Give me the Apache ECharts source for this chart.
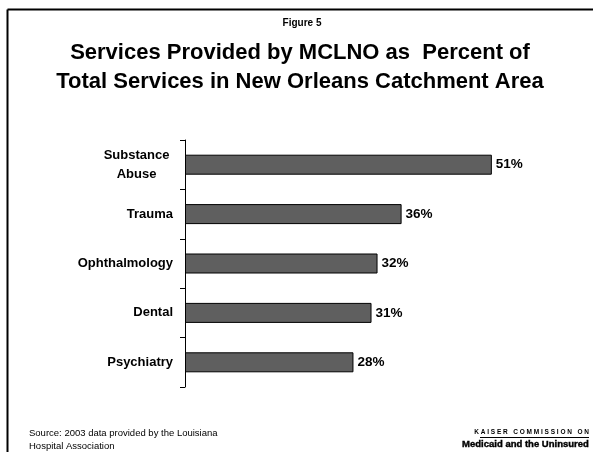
<!DOCTYPE html>
<html>
<head>
<meta charset="utf-8">
<script src="https://cdn.jsdelivr.net/npm/echarts@6/dist/echarts.min.js"></script>
<style>
html,body{margin:0;padding:0;background:#fff;}
#c{width:593px;height:452px;}
</style>
</head>
<body>
<div id="c"></div>
<script>
var categories = ['Substance\nAbuse', 'Trauma', 'Ophthalmology', 'Dental', 'Psychiatry'];
var values = [51, 36, 32, 31, 28];
var figureLabel = 'Figure 5';
var titleText = 'Services Provided by MCLNO as  Percent of\nTotal Services in New Orleans Catchment Area';
var sourceText = 'Source: 2003 data provided by the Louisiana\nHospital Association';

var font = '"Liberation Sans", Arial, sans-serif';
var chart = echarts.init(document.getElementById('c'), null, {renderer: 'canvas'});

var catData = categories.map(function (c) {
  if (c.indexOf('\n') >= 0) {
    return {value: c, textStyle: {align: 'center', padding: [0, 73, 0, 0]}};
  }
  return c;
});

chart.setOption({
  animation: false,
  backgroundColor: '#fff',
  title: [{
    text: figureLabel,
    left: 297, top: 13, textAlign: 'center',
    textStyle: {fontFamily: font, fontSize: 10, fontWeight: 'bold', color: '#000'}
  }, {
    text: titleText,
    left: 295, top: 33, textAlign: 'center',
    textStyle: {fontFamily: font, fontSize: 22, fontWeight: 'bold', color: '#000', lineHeight: 29}
  }],
  grid: {left: 185, top: 140, height: 247, right: 47, containLabel: false},
  xAxis: {
    type: 'value', min: 0, max: 60,
    show: false
  },
  yAxis: {
    type: 'category', inverse: true, data: catData,
    axisLine: {show: true, lineStyle: {color: '#000', width: 1}},
    axisTick: {show: true, length: 5, lineStyle: {color: '#000'}},
    axisLabel: {margin: 12, fontFamily: font, fontSize: 13, fontWeight: 'bold', color: '#000', lineHeight: 19}
  },
  series: [{
    type: 'bar',
    data: values,
    barWidth: 20,
    itemStyle: {color: '#5f5f5f', borderColor: '#000', borderWidth: 1},
    label: {
      show: true, position: 'right', distance: 4,
      formatter: '{c}%',
      fontFamily: font, fontSize: 13.5, fontWeight: 'bold', color: '#000'
    }
  }],
  graphic: [
    {type: 'line', shape: {x1: 7.5, y1: 9.5, x2: 593, y2: 9.5}, style: {stroke: '#000', lineWidth: 2}},
    {type: 'line', shape: {x1: 7.5, y1: 9.5, x2: 7.5, y2: 452}, style: {stroke: '#000', lineWidth: 2}},
    {type: 'text', left: 29, top: 427, style: {text: sourceText, font: '9.5px ' + font, fill: '#000', lineHeight: 13}},
    {type: 'text', right: 4, top: 429, style: {text: 'K A I S E R   C O M M I S S I O N   O N', font: 'bold 6.5px ' + font, fill: '#000'}},
    {type: 'line', shape: {x1: 480, y1: 437.5, x2: 589, y2: 437.5}, style: {stroke: '#000', lineWidth: 1}},
    {type: 'text', right: 4, top: 439, style: {text: 'Medicaid and the Uninsured', font: 'bold 9.5px ' + font, fill: '#000', stroke: '#000', lineWidth: 0.4}}
  ]
});
</script>
</body>
</html>
